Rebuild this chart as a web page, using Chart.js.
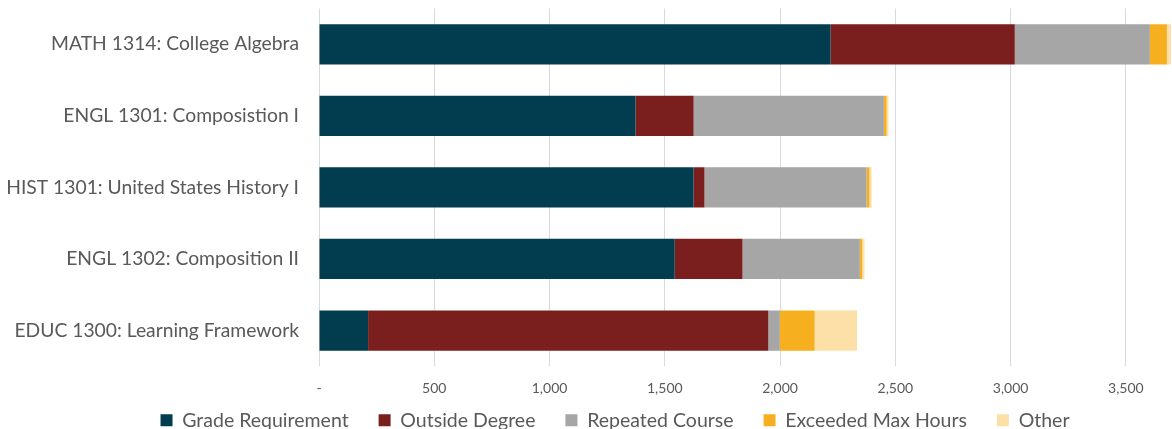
<!DOCTYPE html>
<html><head><meta charset="utf-8">
<script src="https://cdn.jsdelivr.net/npm/chart.js@4"></script>
<style>html,body{margin:0;padding:0;background:#fff}#wrap{width:1172px;height:429px}</style>
</head><body><div id="wrap"><canvas id="c" width="1172" height="429"></canvas></div>
<script>
const categories = ["MATH 1314: College Algebra","ENGL 1301: Composistion I","HIST 1301: United States History I","ENGL 1302: Composition II","EDUC 1300: Learning Framework"];
const gradeRequirement = [2219, 1373, 1625, 1543, 213];
const outsideDegree = [799, 252, 47, 294, 1736];
const repeatedCourse = [586, 825, 703, 509, 50];
const exceededMaxHours = [74, 12, 13, 10, 151];
const other = [17, 8, 9, 10, 184];
const seriesNames = ["Grade Requirement","Outside Degree","Repeated Course","Exceeded Max Hours","Other"];
const xTicks = [0, 500, 1000, 1500, 2000, 2500, 3000, 3500];
const colors = ["#023C4F","#7A1F1D","#A6A6A6","#F6B01F","#FCE0A7"];
const FONT = "Lato";
const seriesData = [gradeRequirement, outsideDegree, repeatedCourse, exceededMaxHours, other];
const legendFix = {
  id: 'legendFix',
  afterInit(chart){
    const lg = chart.legend;
    if (lg) { const f = lg.fit.bind(lg); lg.fit = function(){ f(); this.height = 18.5; }; }
  },
  afterLayout(chart){
    const l = chart.legend;
    if (l) { l.left = 58; l.right = 1172; l.width = l.right - l.left; l.top = 380.5; l.height = 48.5; l.bottom = 429; }
  }
};
new Chart(document.getElementById('c'), {
  type: 'bar',
  data: {
    labels: categories,
    datasets: seriesData.map((d,i)=>({label: seriesNames[i], data: d, backgroundColor: colors[i], borderWidth: 0, barPercentage: 0.563, categoryPercentage: 1}))
  },
  options: {
    indexAxis: 'y', responsive: false, animation: false,
    layout: {padding: {left: 0, right: 0, top: 8.5, bottom: 0}},
    scales: {
      x: {type: 'linear', stacked: true, min: 0, max: 3700,
        border: {display: false},
        grid: {color: '#D9D9D9', lineWidth: 1, drawTicks: false},
        afterBuildTicks: (s)=>{ s.ticks = xTicks.map(v=>({value: v})); },
        ticks: {padding: 13.7, color: '#595959', autoSkip: false, maxRotation: 0, minRotation: 0,
          font: {family: FONT, size: 14},
          callback: (v)=> v===0 ? '-' : Number(v).toLocaleString('en-US')}
      },
      y: {stacked: true,
        border: {display: false},
        grid: {display: false, drawTicks: true, tickLength: 20},
        ticks: {padding: 0, color: '#595959', font: {family: FONT, size: 19.3}},
        afterFit: (s)=>{ s.width = 319; s.paddingTop = 0; s.paddingBottom = 0; }
      }
    },
    plugins: {
      legend: {position: 'bottom', labels: {boxWidth: 12, boxHeight: 12, padding: 30, color: '#595959', font: {family: FONT, size: 19.5}}},
      tooltip: {enabled: false}
    }
  },
  plugins: [legendFix]
});
</script></body></html>
